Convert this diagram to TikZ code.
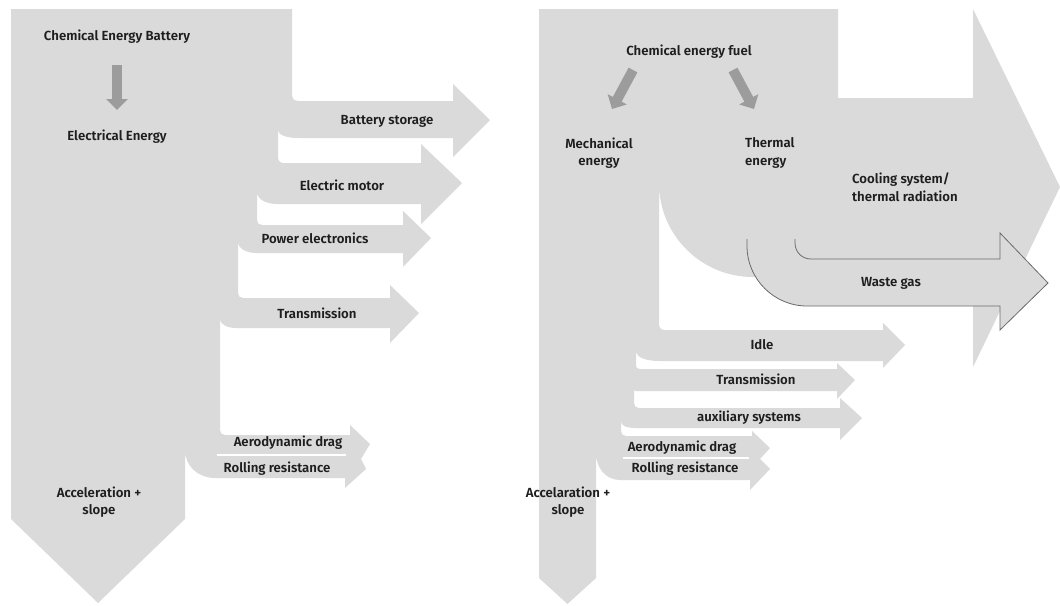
\documentclass[tikz,border=0pt]{standalone}
\usepackage{xcolor}
\usepackage{fontspec}
\setmainfont{Fira Sans}[UprightFont={* SemiBold}]
\usepackage{tikz}
\usetikzlibrary{positioning, arrows.meta}

\definecolor{flowgrey}{HTML}{DADADA}
\definecolor{arrowgrey}{HTML}{9C9C9C}
\definecolor{edgegrey}{HTML}{6A6A6A}
\definecolor{labelink}{HTML}{1E1E1E}

\begin{document}
\begin{tikzpicture}[
    x=1pt, y=-1pt,
    flow/.style={fill=flowgrey},
    waste/.style={draw=edgegrey, line width=0.8pt},
    lbl/.style={inner sep=0pt, align=center, text=labelink, font=\fontsize{13.2}{17.5}\selectfont},
    smallarrow/.style={draw=arrowgrey, line width=10pt, -{Triangle[width=21pt, length=11pt]}}
]
\useasboundingbox (0,0) rectangle (1060,605);

% Battery electric flow
\path[flow] (11,9) -- (292,9) -- (292,94) .. controls (292,99) and (294,101) .. (299,101)
    -- (453,101) -- (453,84) -- (490,120) -- (453,157) -- (453,138)
    -- (298,138) .. controls (287,138) and (278,135) .. (278,130)
    -- (278,157) .. controls (278,161) and (280,163) .. (284,163)
    -- (421,163) -- (421,144) -- (462,183) -- (421,224) -- (421,204)
    -- (277,204) .. controls (266,204) and (257,199) .. (257,192)
    -- (257,220) .. controls (257,223) and (259,225) .. (262,225)
    -- (403,225) -- (403,211) -- (431,238) -- (403,267) -- (403,253)
    -- (256,253) .. controls (246,253) and (238,248) .. (238,242)
    -- (238,293) .. controls (238,296) and (240,298) .. (243,298)
    -- (390,298) -- (390,285) -- (419,313) -- (390,343) -- (390,328)
    -- (236,328) .. controls (227,328) and (220,324) .. (220,319)
    -- (220,430) .. controls (220,433) and (222,435) .. (225,435)
    -- (350,435) -- (350,425) -- (370,444) -- (361,459) -- (366,469) -- (345,488) -- (345,478)
    -- (215,478) .. controls (198,478) and (185,466) .. (185,450)
    -- (185,519) -- (98,603) -- (11,519) -- cycle;
\draw[white, line width=1.2pt] (217,455) -- (346,455);

% Combustion flow
\path[flow] (539,9) -- (838,9) -- (838,98) -- (973,98) -- (973,9) -- (1060,187) -- (973,367) -- (973,277)
    -- (753,277) .. controls (701,277) and (659,235) .. (659,183)
    -- (659,324) .. controls (659,328) and (661,330) .. (665,330)
    -- (883,330) -- (883,323) -- (905,345) -- (883,368) -- (883,361)
    -- (660,361) .. controls (646,361) and (636,358) .. (636,350)
    -- (636,365) .. controls (636,368) and (637,369) .. (640,369)
    -- (837,369) -- (837,363) -- (855,380) -- (837,399) -- (837,391)
    -- (636,391) .. controls (634,391) and (634,390) .. (634,388)
    -- (634,403) .. controls (634,406) and (636,408) .. (639,408)
    -- (840,408) -- (840,398) -- (862,418) -- (840,440) -- (840,428)
    -- (636,428) .. controls (627,428) and (621,426) .. (621,421)
    -- (621,431) .. controls (621,434) and (623,436) .. (626,436)
    -- (752,436) -- (752,431) -- (770,448) -- (760,459) -- (770,469) -- (750,490) -- (750,480)
    -- (620,480) .. controls (606,480) and (596,468) .. (596,453)
    -- (596,578) -- (567.5,604) -- (539,578) -- cycle;
\draw[white, line width=1.2pt] (623,458) -- (749,458);

% Waste gas
\fill[flowgrey] (795,239) -- (795,243) .. controls (795,252) and (802,259) .. (811,259)
    -- (1000,259) -- (1000,233) -- (1048,283) -- (1000,330) -- (1000,306)
    -- (807,306) .. controls (774,306) and (747,279) .. (747,246) -- (747,239) -- cycle;
\draw[waste] (795,239) -- (795,243) .. controls (795,252) and (802,259) .. (811,259)
    -- (1000,259) -- (1000,233) -- (1048,283) -- (1000,330) -- (1000,306)
    -- (807,306) .. controls (774,306) and (747,279) .. (747,246) -- (747,239);

% Nodes
\node[lbl] (chembat) at (117,37) {Chemical Energy Battery};
\node[lbl] (elec) at (117,137) {Electrical Energy};
\node[lbl] (battery) at (387,121) {Battery storage};
\node[lbl] (motor) at (342,185) {Electric motor};
\node[lbl] (power) at (315,238) {Power electronics};
\node[lbl] (transL) at (317,313) {Transmission};
\node[lbl] (aeroL) at (288,443) {Aerodynamic drag};
\node[lbl] (rollL) at (277,469) {Rolling resistance};
\node[lbl] (accelL) at (99,502) {Acceleration +\\slope};

\node[lbl] (fuel) at (689,52) {Chemical energy fuel};
\node[lbl] (mech) at (599,153) {Mechanical\\energy};
\node[lbl, anchor=west, align=left] (thermal) at (745,153) {Thermal\\energy};
\node[lbl, anchor=west, align=left] (cooling) at (852,187) {Cooling system/\\thermal radiation};
\node[lbl] (wastegas) at (891,283) {Waste gas};
\node[lbl] (idle) at (762,345) {Idle};
\node[lbl] (transR) at (756,379) {Transmission};
\node[lbl] (aux) at (749,418) {auxiliary systems};
\node[lbl] (aeroR) at (682,448) {Aerodynamic drag};
\node[lbl] (rollR) at (685,469) {Rolling resistance};
\node[lbl] (accelR) at (568,502) {Accelaration +\\slope};

\coordinate (mechfrom) at (633,70);
\coordinate (mechto) at (612,109);
\coordinate (thermfrom) at (733,70);
\coordinate (thermto) at (754,109);

% Arrows
\draw[smallarrow, shorten <=28pt, shorten >=27pt] (chembat.center) -- (elec.center);
\draw[smallarrow] (mechfrom) -- (mechto);
\draw[smallarrow] (thermfrom) -- (thermto);

\end{tikzpicture}
\end{document}
